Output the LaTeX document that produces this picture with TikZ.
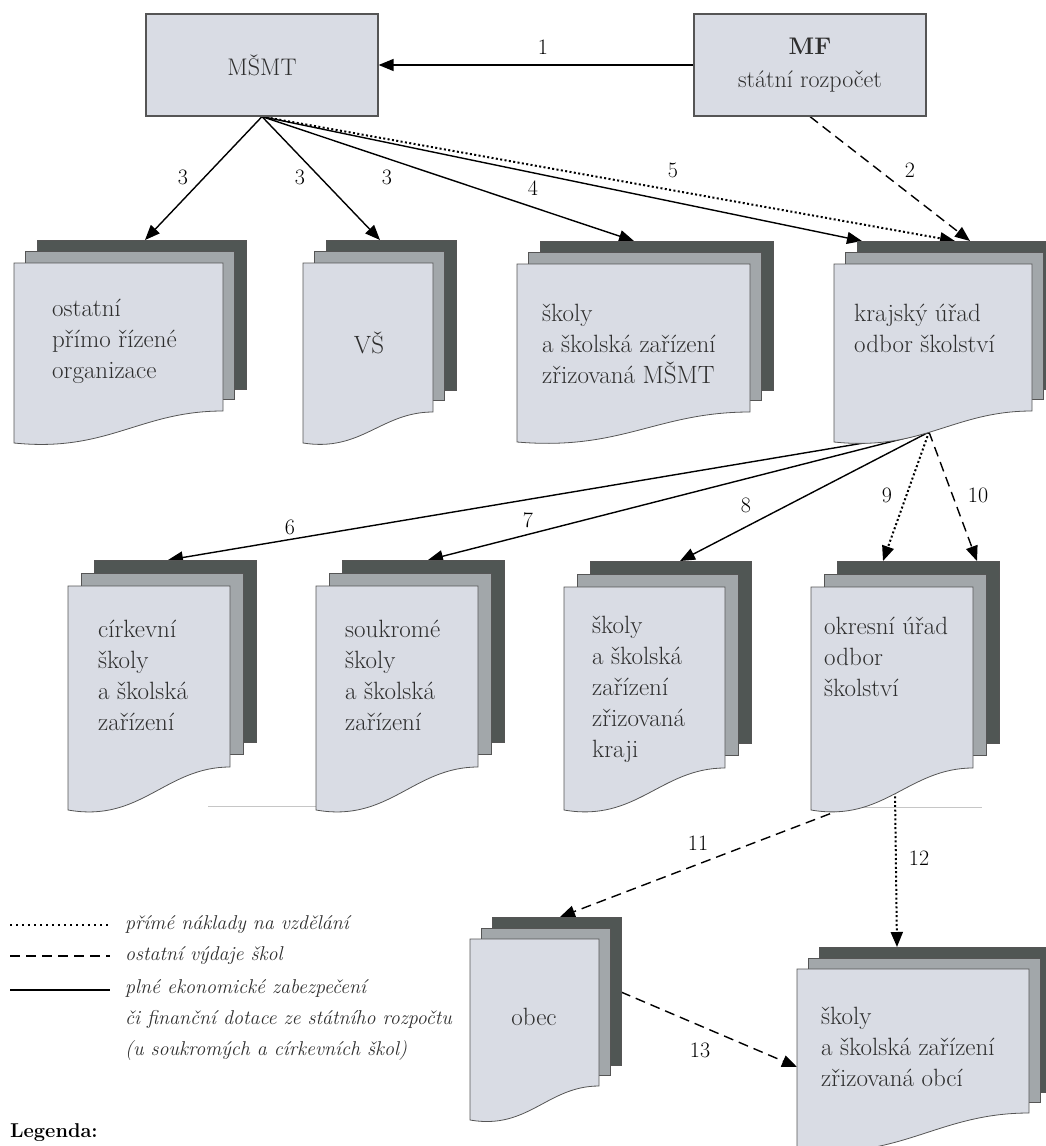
\documentclass[tikz,border=0pt]{standalone}
\usepackage{fontspec}
\usetikzlibrary{arrows.meta,backgrounds}

\definecolor{blatt}{HTML}{D9DCE4}
\definecolor{blattmitte}{HTML}{A2A7AA}
\definecolor{blatthinten}{HTML}{505654}
\definecolor{rand}{HTML}{555555}
\definecolor{schrift}{HTML}{2E2E2E}

\tikzset{
  vorne/.style={draw=rand, line width=0.8pt, fill=blatt},
  mitte/.style={draw=rand, line width=0.8pt, fill=blattmitte},
  hinten/.style={draw=rand, line width=0.8pt, fill=blatthinten},
  kasten/.style={draw=rand, line width=1.2pt, fill=blatt, minimum width=232pt,
    minimum height=102pt, inner sep=0pt, font=\fontsize{24}{33}\selectfont,
    text=schrift, align=center},
  blatttext/.style={font=\fontsize{25}{31}\selectfont, text=schrift, align=left,
    anchor=west, inner sep=0pt},
  zahl/.style={font=\fontsize{22}{22}\selectfont, inner sep=0pt},
  pfeil/.style={line width=1.4pt, -{Triangle[length=15pt,width=12pt]}},
  punkt/.style={pfeil, line width=2pt, dash pattern=on 2pt off 2.4pt},
  strich/.style={pfeil, dash pattern=on 10pt off 6pt},
  legtext/.style={font=\fontsize{20}{31}\selectfont\itshape, text=schrift,
    align=left, anchor=west, inner sep=0pt}
}

% Dokumentstapel: x links, oben, x rechts, unten rechts, unten links, Versatz
\newcommand{\dokstapel}[6]{%
  \draw[hinten] ({#1+2*#6},{#2-2*#6}) rectangle ({#3+2*#6},{#4-1.9*#6});
  \draw[mitte] ({#1+#6},{#2-#6}) rectangle ({#3+#6},{#4-#6});
  \draw[vorne] (#1,#2) -- (#3,#2) -- (#3,#4)
    .. controls ({#3-0.4*(#3-#1)},#4) and ({#1+0.45*(#3-#1)},{#5+0.3*(#5-#4)}) .. (#1,#5) -- cycle;
}

\begin{document}
\begin{tikzpicture}[x=1pt,y=-1pt]
\useasboundingbox (0,0) rectangle (1046,1146);
% Kaesten oben
\node[kasten] (msmt) at (262,65) {MŠMT};
\node[kasten] (mf) at (810,65) {\textbf{MF}\\státní rozpočet};
% Stapel Reihe 1
\dokstapel{14}{263}{223}{411}{443}{11.5}
\dokstapel{303}{263}{433}{412}{443}{11.5}
\dokstapel{517}{264}{750}{412}{442}{11.5}
\dokstapel{834}{264}{1032}{411}{442}{11.5}
% Stapel Reihe 2
\dokstapel{68}{586}{230}{767}{810}{13}
\dokstapel{316}{586}{478}{767}{810}{13}
\dokstapel{564}{587}{725}{768}{810}{13}
\dokstapel{811}{587}{973}{768}{810}{13}
% Stapel Reihe 3
\dokstapel{470}{939}{599}{1086}{1120}{11}
\dokstapel{797}{969}{1029}{1113}{1150}{11}
% Texte
\node[blatttext] (ostatni) at (52,341) {ostatní\\přímo řízené\\organizace};
\node[blatttext, anchor=center] (vs) at (369,343) {VŠ};
\node[blatttext] (skolymsmt) at (542,344) {školy\\a školská zařízení\\zřizovaná MŠMT};
\node[blatttext] (kraj) at (854,328) {krajský úřad\\odbor školství};
\node[blatttext] (cirkev) at (98,675) {církevní\\školy\\a školská\\zařízení};
\node[blatttext] (soukr) at (345,675) {soukromé\\školy\\a školská\\zařízení};
\node[blatttext] (skolykraj) at (592,689) {školy\\a školská\\zařízení\\zřizovaná\\kraji};
\node[blatttext] (okres) at (824,657) {okresní úřad\\odbor\\školství};
\node[blatttext, anchor=center] (obec) at (534,1017) {obec};
\node[blatttext] (skolyobec) at (821,1047) {školy\\a školská zařízení\\zřizovaná obcí};
% Anschlusspunkte
\coordinate (ostatni-ein) at (145,240);
\coordinate (vs-ein) at (380,240);
\coordinate (skolymsmt-ein) at (634,241);
\coordinate (kraj-ein1) at (862,241);
\coordinate (kraj-ein2) at (955,241);
\coordinate (kraj-ein3) at (970,241);
\coordinate (kraj-aus) at (929,432);
\coordinate (cirkev-ein) at (168,560);
\coordinate (soukr-ein) at (428,560);
\coordinate (skolykraj-ein) at (680,561);
\coordinate (okres-ein1) at (883,561);
\coordinate (okres-ein2) at (977,561);
\coordinate (okres-aus1) at (845,808);
\coordinate (okres-aus2) at (895,792);
\coordinate (obec-ein) at (560,917);
\coordinate (obec-aus) at (621,992);
\coordinate (skolyobec-ein1) at (897,947);
\coordinate (skolyobec-ein2) at (797,1067);
% Pfeile
\begin{scope}[on background layer]
\draw[pfeil] (mf.west) -- (msmt.east);
\draw[strich] (mf.south) -- (kraj-ein3);
\draw[pfeil] (msmt.south) -- (ostatni-ein);
\draw[pfeil] (msmt.south) -- (vs-ein);
\draw[pfeil] (msmt.south) -- (skolymsmt-ein);
\draw[pfeil] (msmt.south) -- (kraj-ein1);
\draw[punkt] (msmt.south) -- (kraj-ein2);
\draw[pfeil] (kraj-aus) -- (cirkev-ein);
\draw[pfeil] (kraj-aus) -- (soukr-ein);
\draw[pfeil] (kraj-aus) -- (skolykraj-ein);
\draw[punkt] (kraj-aus) -- (okres-ein1);
\draw[strich] (kraj-aus) -- (okres-ein2);
\draw[strich] (okres-aus1) -- (obec-ein);
\draw[punkt] (okres-aus2) -- (skolyobec-ein1);
\draw[strich] (obec-aus) -- (skolyobec-ein2);
% Hilfslinien
\draw[gray!45, line width=1pt] (208,806) -- (318,806);
\draw[gray!45, line width=1pt] (845,807) -- (982,807);
\end{scope}
% Beschriftungen
\node[zahl] (z1) at (543,47) {1};
\node[zahl] (z2) at (910,170) {2};
\node[zahl] (z3a) at (183,177) {3};
\node[zahl] (z3b) at (300,177) {3};
\node[zahl] (z3c) at (387,177) {3};
\node[zahl] (z4) at (533,188) {4};
\node[zahl] (z5) at (673,170) {5};
\node[zahl] (z6) at (290,527) {6};
\node[zahl] (z7) at (528,520) {7};
\node[zahl] (z8) at (746,505) {8};
\node[zahl] (z9) at (887,495) {9};
\node[zahl] (z10) at (978,495) {10};
\node[zahl] (z11) at (698,843) {11};
\node[zahl] (z12) at (919,858) {12};
\node[zahl] (z13) at (700,1050) {13};
% Legende
\draw[line width=2pt, dash pattern=on 2pt off 4pt] (10,925) -- (110,925);
\draw[line width=1.4pt, dash pattern=on 10pt off 6pt] (10,956) -- (110,956);
\draw[line width=1.4pt] (10,990) -- (110,990);
\node[legtext] (leg1) at (125,925) {přímé náklady na vzdělání};
\node[legtext] (leg2) at (125,956) {ostatní výdaje škol};
\node[legtext] (leg3) at (125,1020) {plné ekonomické zabezpečení\\či finanční dotace ze státního rozpočtu\\(u soukromých a církevních škol)};
\node[font=\fontsize{20}{20}\selectfont\bfseries, anchor=west, inner sep=0pt] (legenda) at (10,1133) {Legenda:};
\end{tikzpicture}
\end{document}
